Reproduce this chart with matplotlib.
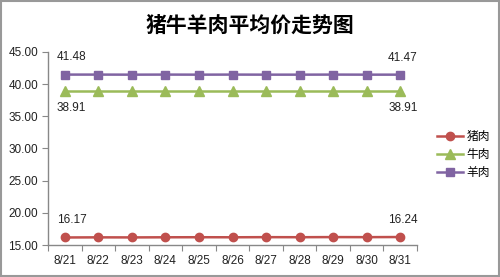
import matplotlib
matplotlib.use('Agg')
import matplotlib.pyplot as plt
from matplotlib.patches import Rectangle

plt.rcParams['font.family'] = ['Liberation Sans', 'Noto Sans CJK SC', 'DejaVu Sans']

dates = ['8/21', '8/22', '8/23', '8/24', '8/25', '8/26',
         '8/27', '8/28', '8/29', '8/30', '8/31']
pork = [16.17, 16.19, 16.18, 16.20, 16.21, 16.20, 16.22, 16.21, 16.23, 16.22, 16.24]
beef = [38.91, 38.91, 38.91, 38.91, 38.91, 38.91, 38.91, 38.91, 38.91, 38.91, 38.91]
mutton = [41.48, 41.48, 41.47, 41.48, 41.47, 41.48, 41.47, 41.47, 41.48, 41.47, 41.47]
yticks = [15, 20, 25, 30, 35, 40, 45]

fig = plt.figure(figsize=(5, 2.77), dpi=100)
ax = fig.add_axes([0.096, 0.1155, 0.738, 0.697])

x = list(range(len(dates)))
ax.plot(x, pork, color='#C0504D', lw=1.8, marker='o', ms=6, label='猪肉')
ax.plot(x, beef, color='#9BBB59', lw=1.8, marker='^', ms=6.5, label='牛肉')
ax.plot(x, mutton, color='#8064A2', lw=1.8, marker='s', ms=6, label='羊肉')

# labels on first and last points only
for i, dx in ((0, 5), (len(x) - 1, 2)):
    ax.annotate(f'{pork[i]:.2f}', (x[i], pork[i]), xytext=(dx, 8), textcoords='offset points',
                ha='center', va='bottom', fontsize=8.5, color='#222222')
    ax.annotate(f'{mutton[i]:.2f}', (x[i], mutton[i]), xytext=(dx, 8), textcoords='offset points',
                ha='center', va='bottom', fontsize=8.5, color='#222222')
    ax.annotate(f'{beef[i]:.2f}', (x[i], beef[i]), xytext=(dx, -8), textcoords='offset points',
                ha='center', va='top', fontsize=8.5, color='#222222')

ax.set_xlim(-0.5, len(x) - 0.5)
ax.set_ylim(15, 45)
ax.set_yticks(yticks)
ax.set_yticklabels([f'{v:.2f}' for v in yticks], fontsize=8.5, color='#222222')
ax.set_xticks([i - 0.5 for i in range(len(x) + 1)])
ax.set_xticklabels([])
ax.set_xticks(x, minor=True)
ax.set_xticklabels(dates, minor=True, fontsize=8.5, color='#222222')
ax.tick_params(axis='x', which='minor', length=0, pad=7)
ax.tick_params(axis='x', which='major', length=4, color='#888888')
ax.tick_params(axis='y', length=4, color='#888888', pad=3)

for s in ('top', 'right'):
    ax.spines[s].set_visible(False)
for s in ('left', 'bottom'):
    ax.spines[s].set_color('#888888')
    ax.spines[s].set_linewidth(1)

fig.text(0.5, 0.91, '猪牛羊肉平均价走势图', ha='center', va='center',
         fontsize=15, fontweight='bold', family=['Noto Sans CJK SC'])

ax.legend(loc='upper left', bbox_to_anchor=(0.862, 0.553), bbox_transform=fig.transFigure,
          frameon=False, handlelength=2.2, handletextpad=0.3,
          labelspacing=0.45, borderpad=0, prop={'family': ['Noto Sans CJK SC'], 'size': 8.5})

fig.patches.append(Rectangle((0.002, 0.003), 0.996, 0.994, transform=fig.transFigure,
                             fill=False, edgecolor='#999999', lw=1.5))

fig.savefig('out.png', dpi=100)
